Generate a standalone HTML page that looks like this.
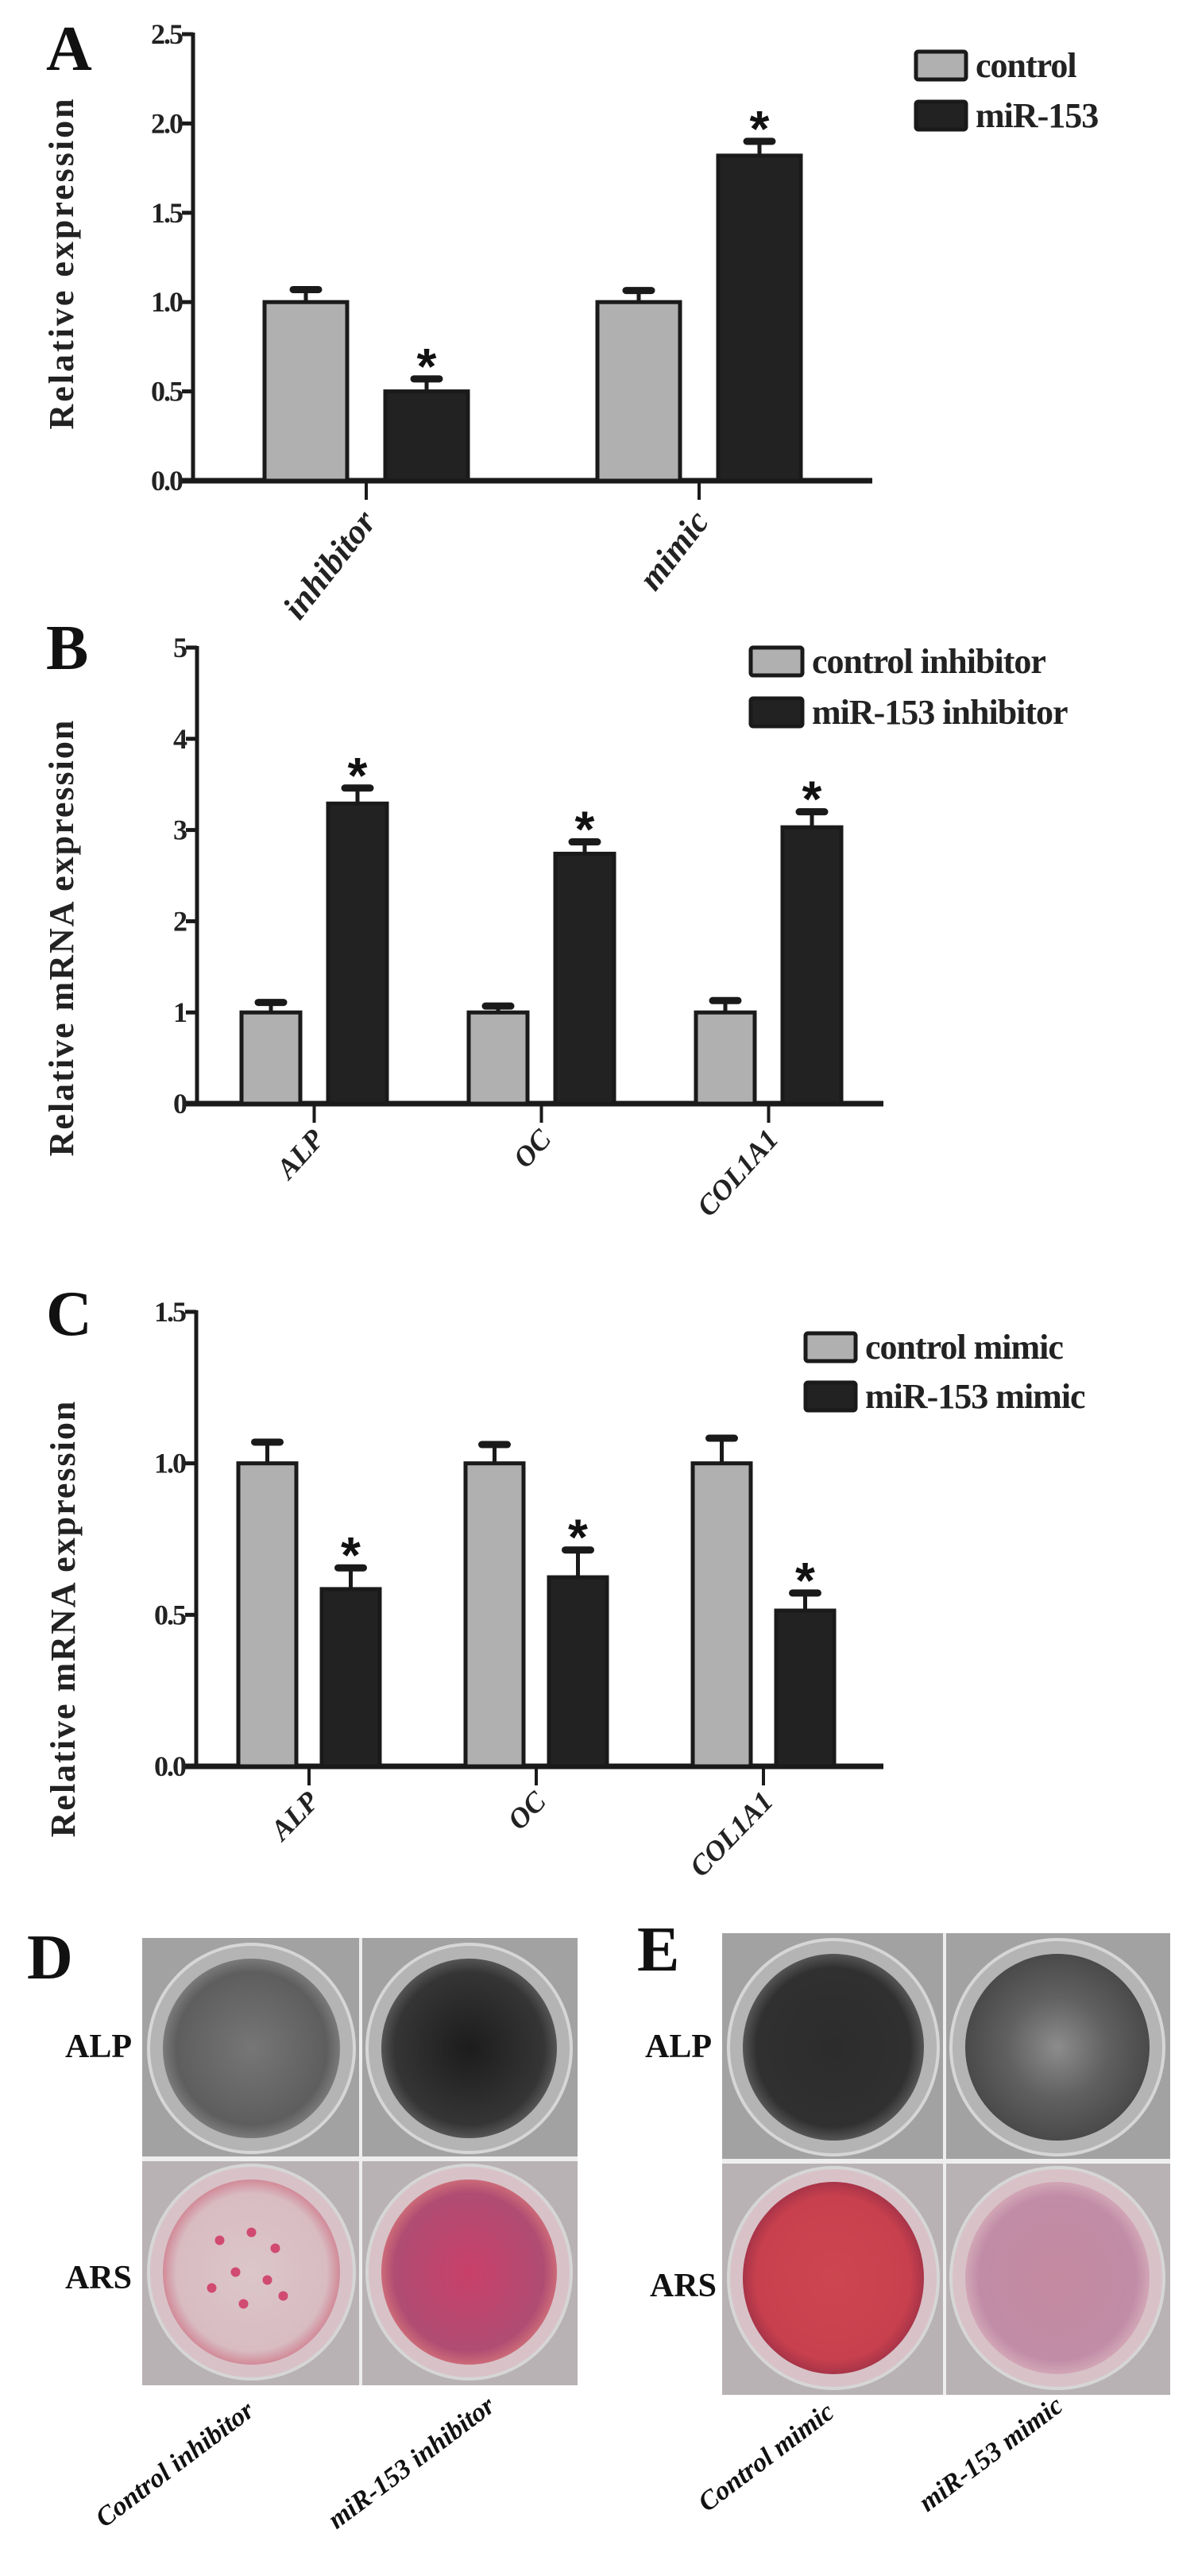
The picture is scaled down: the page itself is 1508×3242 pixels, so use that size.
<!DOCTYPE html>
<html><head><meta charset="utf-8"><style>
html,body{margin:0;padding:0;background:#fff}
svg{display:block;font-family:"Liberation Serif",serif;font-weight:bold}
</style></head><body>
<svg id="fig" xmlns="http://www.w3.org/2000/svg" width="1508" height="3242" viewBox="0 0 1508 3242">
<defs>
<radialGradient id="gD1" cx="50%" cy="50%" r="50%"><stop offset="0" stop-color="#767676"/><stop offset="0.85" stop-color="#5e5e5e"/><stop offset="1" stop-color="#7a7a7a"/></radialGradient>
<radialGradient id="gD2" cx="50%" cy="50%" r="50%"><stop offset="0" stop-color="#1c1c1c"/><stop offset="0.85" stop-color="#353535"/><stop offset="1" stop-color="#555"/></radialGradient>
<radialGradient id="gE1" cx="50%" cy="50%" r="50%"><stop offset="0" stop-color="#2c2c2c"/><stop offset="0.85" stop-color="#303030"/><stop offset="1" stop-color="#555"/></radialGradient>
<radialGradient id="gE2" cx="50%" cy="50%" r="50%"><stop offset="0" stop-color="#8c8c8c"/><stop offset="0.55" stop-color="#606060"/><stop offset="1" stop-color="#4a4a4a"/></radialGradient>
<radialGradient id="rD1" cx="50%" cy="50%" r="50%"><stop offset="0" stop-color="#dcc6ca"/><stop offset="0.85" stop-color="#d8bcc2"/><stop offset="1" stop-color="#d28a98"/></radialGradient>
<radialGradient id="rD2" cx="50%" cy="50%" r="50%"><stop offset="0" stop-color="#c8406a"/><stop offset="0.85" stop-color="#b04c72"/><stop offset="1" stop-color="#cc6a78"/></radialGradient>
<radialGradient id="rE1" cx="50%" cy="50%" r="50%"><stop offset="0" stop-color="#cc4650"/><stop offset="0.85" stop-color="#c8404e"/><stop offset="1" stop-color="#a83448"/></radialGradient>
<radialGradient id="rE2" cx="50%" cy="50%" r="50%"><stop offset="0" stop-color="#c48aa0"/><stop offset="0.85" stop-color="#c08ca6"/><stop offset="1" stop-color="#d2a6b6"/></radialGradient>
</defs>
</svg>
<script>
// Panel A data
const catsA = ['inhibitor','mimic'];
const ctrlA = [1.0, 1.0];
const ctrlErrA = [0.07, 0.065];
const mirA = [0.5, 1.82];
const mirErrA = [0.07, 0.08];
const ticksA = [0, 0.5, 1.0, 1.5, 2.0, 2.5];
const tickLabA = ['0.0','0.5','1.0','1.5','2.0','2.5'];
// Panel B data
const catsB = ['ALP','OC','COL1A1'];
const ctrlB = [1.0, 1.0, 1.0];
const ctrlErrB = [0.11, 0.07, 0.13];
const mirB = [3.29, 2.74, 3.03];
const mirErrB = [0.17, 0.13, 0.17];
const ticksB = [0,1,2,3,4,5];
const tickLabB = ['0','1','2','3','4','5'];
// Panel C data
const catsC = ['ALP','OC','COL1A1'];
const ctrlC = [1.0, 1.0, 1.0];
const ctrlErrC = [0.07, 0.062, 0.083];
const mirC = [0.585, 0.624, 0.514];
const mirErrC = [0.07, 0.09, 0.058];
const ticksC = [0, 0.5, 1.0, 1.5];
const tickLabC = ['0.0','0.5','1.0','1.5'];

const NS='http://www.w3.org/2000/svg';
const svg=document.getElementById('fig');
function mk(tag,attrs,parent,text){const e=document.createElementNS(NS,tag);for(const k in attrs)e.setAttribute(k,attrs[k]);if(text!==undefined)e.textContent=text;(parent||svg).appendChild(e);return e;}

function chart(o){
  const g=mk('g',{});
  
  
  const y=v=>o.y0-(v-o.ymin)/(o.ymax-o.ymin)*(o.y0-o.y1);
  const L=mk('text',{x:o.lx,y:o.ly,'font-size':80,fill:'#111'},g,o.letter);
  
  
  const t=mk('text',{x:0,y:0,'font-size':44,'letter-spacing':o.ls,'text-anchor':'middle',transform:`translate(${o.tx},${o.tcy}) rotate(-90)`,fill:'#222'},g,o.title);
  
  
  const ya=mk('line',{x1:o.ax,y1:o.y1-2,x2:o.ax,y2:o.y0,stroke:'#1a1a1a','stroke-width':5},g);
  
  
  const xa=mk('line',{x1:o.ax-14,y1:o.y0,x2:o.axEnd,y2:o.y0,stroke:'#1a1a1a','stroke-width':7},g);
  
  
  o.ticks.forEach((v,i)=>{
    mk('line',{x1:o.ax-14,y1:y(v),x2:o.ax,y2:y(v),stroke:'#1a1a1a','stroke-width':5},g);
    const tl=mk('text',{x:o.ax-14,y:y(v)+12,'font-size':36,'text-anchor':'end',fill:'#222','letter-spacing':-2},g,o.tickLab[i]);
    
    
  });
  o.cats.forEach((c,i)=>{
    const gx=o.g0+i*o.gstep;
    const cx=gx+o.bw+o.gap/2;
    mk('line',{x1:cx,y1:o.y0,x2:cx,y2:o.y0+24,stroke:'#1a1a1a','stroke-width':4},g);
    const cl=mk('text',{x:0,y:0,'font-size':o.catSize,'font-style':'italic','text-anchor':'end',fill:'#222',transform:`translate(${cx+14},${o.y0+o.catDy}) rotate(${o.catRot})`},g,c);
    
    
    [[o.ctrl,o.ctrlErr,'#b0b0b0',gx,'control'],[o.mir,o.mirErr,'#222',gx+o.bw+o.gap,'mir']].forEach(([vals,errs,fill,bx,key])=>{
      const v=vals[i],e=errs[i],mx=bx+o.bw/2;
      mk('line',{x1:mx,y1:y(v),x2:mx,y2:y(v+e),stroke:'#1a1a1a','stroke-width':5},g);
      mk('line',{x1:mx-16,y1:y(v+e),x2:mx+16,y2:y(v+e),stroke:'#1a1a1a','stroke-width':9,'stroke-linecap':'round'},g);
      const r=mk('rect',{x:bx,y:y(v),width:o.bw,height:o.y0-y(v),fill:fill,stroke:'#1a1a1a','stroke-width':5},g);
      
      
      if(key==='mir'){
        const s=mk('text',{x:mx,y:y(v+e)+28,'font-size':64,'text-anchor':'middle',fill:'#111','font-family':'"Liberation Sans",sans-serif'},g,'*');
        s.setAttribute('dy','-22');
        
        
      }
    });
  });
  o.leg.forEach((lab,i)=>{
    const ly=o.legY+i*o.legStep;
    const lg=mk('g',{},g);
    
    
    mk('rect',{x:o.legX,y:ly,width:o.legW,height:35,fill:i?'#222':'#b0b0b0',stroke:'#1a1a1a','stroke-width':5,rx:3},lg);
    mk('text',{x:o.legX+o.legW+12,y:ly+32,'font-size':44,fill:'#222','letter-spacing':-1},lg,lab);
  });
}

chart({name:'chart-a',letter:'A',lx:58,ly:88,title:'Relative expression',ls:3,tx:92,tcy:331,ax:243,axEnd:1098,y0:605,y1:43,ymin:0,ymax:2.5,ticks:ticksA,tickLab:tickLabA,cats:catsA,ctrl:ctrlA,ctrlErr:ctrlErrA,mir:mirA,mirErr:mirErrA,g0:333,gstep:419,bw:104,gap:48,catSize:44,catDy:52,catRot:-52,legX:1153,legY:65,legStep:63,legW:63,leg:['control','miR-153']});
chart({name:'chart-b',letter:'B',lx:58,ly:842,title:'Relative mRNA expression',ls:2,tx:92,tcy:1180,ax:248,axEnd:1112,y0:1389,y1:815,ymin:0,ymax:5,ticks:ticksB,tickLab:tickLabB,cats:catsB,ctrl:ctrlB,ctrlErr:ctrlErrB,mir:mirB,mirErr:mirErrB,g0:304,gstep:286,bw:74,gap:35,catSize:36,catDy:46,catRot:-48,legX:945,legY:815,legStep:64,legW:65,leg:['control inhibitor','miR-153 inhibitor']});
chart({name:'chart-c',letter:'C',lx:58,ly:1680,title:'Relative mRNA expression',ls:2,tx:94,tcy:2037,ax:247,axEnd:1112,y0:2223,y1:1651,ymin:0,ymax:1.5,ticks:ticksC,tickLab:tickLabC,cats:catsC,ctrl:ctrlC,ctrlErr:ctrlErrC,mir:mirC,mirErr:mirErrC,g0:300,gstep:286,bw:73,gap:32,catSize:36,catDy:46,catRot:-46,legX:1014,legY:1678,legStep:62,legW:63,leg:['control mimic','miR-153 mimic']});

function photo(o){
  const g=mk('g',{});
  
  
  const L=mk('text',{x:o.lx,y:o.ly,'font-size':80,fill:'#111'},g,o.letter);
  
  
  const xs=[o.x0,o.xm,o.x1];
  [[o.y0,o.ym,o.gray,'#a2a2a2'],[o.ym,o.y1,o.red,'#b8b2b4']].forEach(([ya,yb,grads,bg],row)=>{
    [0,1].forEach(col=>{
      const x=xs[col], w=xs[col+1]-xs[col];
      const cell=mk('g',{},g);
      
      
      mk('rect',{x:x,y:ya,width:w,height:yb-ya,fill:bg},cell);
      const cx=x+w/2, cy=(ya+yb)/2;
      mk('ellipse',{cx:cx,cy:cy,rx:w/2-8,ry:(yb-ya)/2-8,fill:row?'#d8c2c8':'#b4b4b4',stroke:'#d6d6d6','stroke-width':4},cell);
      mk('ellipse',{cx:cx,cy:cy,rx:w/2-26,ry:(yb-ya)/2-26,fill:`url(#${grads[col]})`},cell);
      if(row===1 && o.spots && col===0){
        o.spots.forEach(p=>mk('circle',{cx:cx+p[0],cy:cy+p[1],r:6,fill:'#d04a72'},cell));
      }
    });
  });
  mk('line',{x1:o.xm,y1:o.y0,x2:o.xm,y2:o.y1,stroke:'#eee','stroke-width':4},g);
  mk('line',{x1:o.x0,y1:o.ym,x2:o.x1,y2:o.ym,stroke:'#eee','stroke-width':6},g);
  const a=mk('text',{x:o.rx,y:o.alpY,'font-size':42,'text-anchor':'end',fill:'#111'},g,'ALP');
  
  
  const b=mk('text',{x:o.rx2,y:o.arsY,'font-size':42,'text-anchor':'end',fill:'#111'},g,'ARS');
  
  
  o.labs.forEach((t,i)=>{
    const tl=mk('text',{x:0,y:0,'font-size':34,'font-style':'italic','text-anchor':'end',fill:'#111',transform:`translate(${o.labEnd[i][0]},${o.labEnd[i][1]}) rotate(-37)`},g,t);
    
    
  });
}
photo({name:'stain-panel-d',letter:'D',lx:34,ly:2490,x0:179,xm:454,x1:727,y0:2439,ym:2717,y1:3002,gray:['gD1','gD2'],red:['rD1','rD2'],rx:166,rx2:166,alpY:2589,arsY:2880,spots:[[-40,-40],[0,-50],[30,-30],[-20,0],[20,10],[-10,40],[40,30],[-50,20]],labs:['Control  inhibitor','miR-153 inhibitor'],labEnd:[[322,3038],[625,3032]]});
photo({name:'stain-panel-e',letter:'E',lx:802,ly:2480,x0:909,xm:1189,x1:1473,y0:2433,ym:2720,y1:3014,gray:['gE1','gE2'],red:['rE1','rE2'],rx:896,rx2:902,alpY:2589,arsY:2890,labs:['Control mimic','miR-153 mimic'],labEnd:[[1052,3040],[1340,3032]]});
</script>
</body></html>
